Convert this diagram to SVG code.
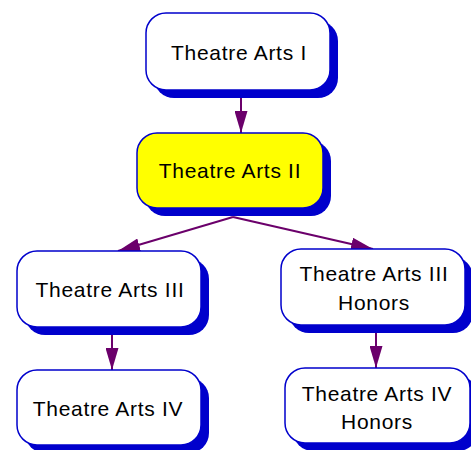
<svg xmlns="http://www.w3.org/2000/svg" width="471" height="450" viewBox="0 0 471 450">
<style>
.sh{fill:#0000CC;}
.bx{fill:#FFFFFF;stroke:#0000CC;stroke-width:1.5;}
.hl{fill:#FFFF00;}
.tx{font-family:"Liberation Sans",Arial,sans-serif;font-size:21px;letter-spacing:0.7px;fill:#000000;text-anchor:middle;}
.cn{stroke:#6B006B;stroke-width:2;fill:none;marker-end:url(#ah);}
</style>
<defs>
<marker id="ah" markerUnits="userSpaceOnUse" markerWidth="22" markerHeight="13" refX="22" refY="6.5" orient="auto">
<path d="M0,0 L22,6.5 L0,13 z" fill="#6B006B"/>
</marker>
</defs>
<g id="connectors">
<line class="cn" x1="241" y1="98" x2="241" y2="133"/>
<line class="cn" x1="233" y1="217" x2="118" y2="251"/>
<line class="cn" x1="233" y1="217" x2="373" y2="249"/>
<line class="cn" x1="112" y1="335" x2="112" y2="370"/>
<line class="cn" x1="376" y1="333" x2="376" y2="368"/>
</g>
<g id="n1">
<rect class="sh" x="154" y="21" width="184" height="77" rx="20"/>
<rect class="bx" x="146" y="13" width="184" height="77" rx="20"/>
<text class="tx" x="239" y="60">Theatre Arts I</text>
</g>
<g id="n2">
<rect class="sh" x="145" y="141" width="186" height="75" rx="20"/>
<rect class="bx hl" x="137" y="133" width="186" height="75" rx="20"/>
<text class="tx" x="230" y="178">Theatre Arts II</text>
</g>
<g id="n3">
<rect class="sh" x="25" y="259" width="184" height="76" rx="20"/>
<rect class="bx" x="17" y="251" width="184" height="76" rx="20"/>
<text class="tx" x="110" y="297">Theatre Arts III</text>
</g>
<g id="n4">
<rect class="sh" x="289" y="257" width="184" height="76" rx="20"/>
<rect class="bx" x="281" y="249" width="184" height="76" rx="20"/>
<text class="tx" x="374" y="281">Theatre Arts III</text>
<text class="tx" x="374" y="310">Honors</text>
</g>
<g id="n5">
<rect class="sh" x="25" y="378" width="184" height="75" rx="20"/>
<rect class="bx" x="17" y="370" width="184" height="75" rx="20"/>
<text class="tx" x="108" y="416">Theatre Arts IV</text>
</g>
<g id="n6">
<rect class="sh" x="293" y="376" width="185" height="75" rx="20"/>
<rect class="bx" x="285" y="368" width="185" height="75" rx="20"/>
<text class="tx" x="377" y="401">Theatre Arts IV</text>
<text class="tx" x="377" y="429">Honors</text>
</g>
</svg>
